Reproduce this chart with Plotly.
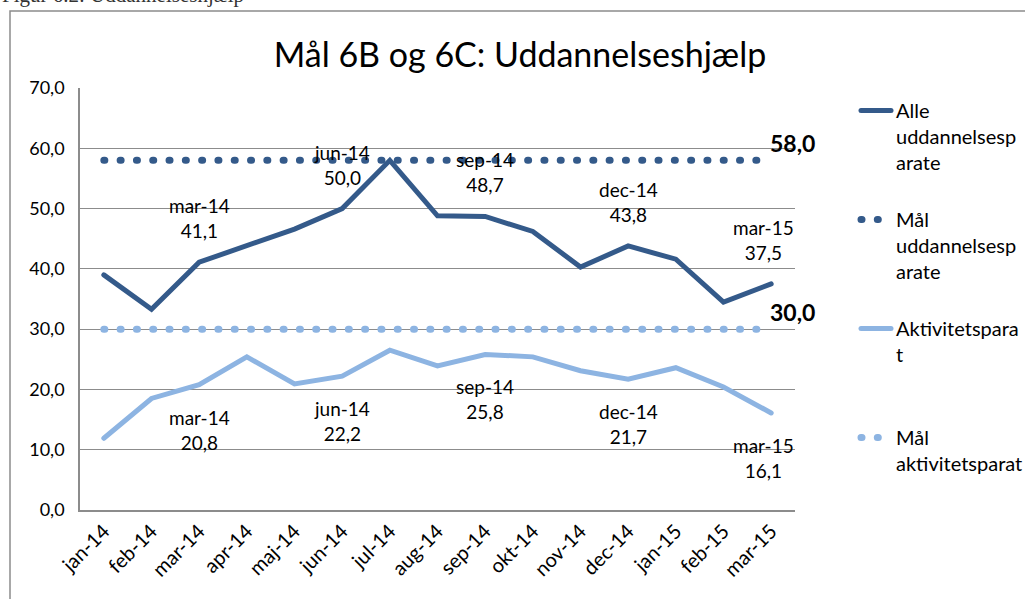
import plotly.graph_objects as go

months = ["jan-14", "feb-14", "mar-14", "apr-14", "maj-14", "jun-14", "jul-14",
          "aug-14", "sep-14", "okt-14", "nov-14", "dec-14", "jan-15", "feb-15", "mar-15"]
alle = [39.0, 33.3, 41.1, 43.9, 46.6, 50.0, 58.0, 48.8, 48.7, 46.2, 40.3, 43.8, 41.6, 34.5, 37.5]
aktiv = [11.9, 18.5, 20.8, 25.4, 20.9, 22.2, 26.5, 23.9, 25.8, 25.4, 23.1, 21.7, 23.6, 20.4, 16.1]
maal_alle = [58.0] * len(months)
maal_aktiv = [30.0] * len(months)
label_months = ["mar-14", "jun-14", "sep-14", "dec-14", "mar-15"]
ytick_vals = [0, 10, 20, 30, 40, 50, 60, 70]

names = ["Alle<br>uddannelsesp<br>arate", "Mål<br>uddannelsesp<br>arate",
         "Aktivitetspara<br>t<br> ", "Mål<br>aktivitetsparat"]

DARK = "#345A8A"
LIGHT = "#8DB4E2"
GRID = "#8C8C8C"
FONT = "Lato"

W, H = 1025, 599
L, R, T, B = 80, 230, 88, 89
pw, ph = W - L - R, H - T - B

def px_x(p):
    return (p - L) / pw

def px_y(p):
    return (H - B - p) / ph

def fmt(v):
    return f"{v:.1f}".replace(".", ",")

fig = go.Figure()
fig.add_trace(go.Scatter(x=months, y=alle, mode="lines", name=names[0], legendgroup="a",
                         line=dict(color=DARK, width=5), hoverinfo="skip"))
fig.add_trace(go.Scatter(x=months, y=maal_alle, mode="lines", name=names[1], legendgroup="b",
                         line=dict(color=DARK, width=7, dash="1px,15.3px"), hoverinfo="skip"))
fig.add_trace(go.Scatter(x=months, y=aktiv, mode="lines", name=names[2], legendgroup="c",
                         line=dict(color=LIGHT, width=5), hoverinfo="skip"))
fig.add_trace(go.Scatter(x=months, y=maal_aktiv, mode="lines", name=names[3], legendgroup="d",
                         line=dict(color=LIGHT, width=7, dash="1px,15.3px"), hoverinfo="skip"))

annots = []
for m in label_months:
    i = months.index(m)
    xs = -8 if m == "mar-15" else 0
    annots.append(dict(x=m, y=alle[i], text=f"{m}<br>{fmt(alle[i])}", showarrow=False,
                       yshift=44, xshift=xs, font=dict(family=FONT, size=19, color="black")))
    annots.append(dict(x=m, y=aktiv[i], text=f"{m}<br>{fmt(aktiv[i])}", showarrow=False,
                       yshift=-45, xshift=xs, font=dict(family=FONT, size=19, color="black")))
for vals in (maal_alle, maal_aktiv):
    annots.append(dict(x=months[-1], y=vals[-1], text=f"<b>{fmt(vals[-1])}</b>", showarrow=False,
                       xshift=21, yshift=17, font=dict(family=FONT, size=23, color="black")))

annots.append(dict(xref="paper", yref="paper", x=px_x(0), y=px_y(9), xanchor="left",
                   yanchor="bottom", text="Figur 6.2: Uddannelseshjælp", showarrow=False,
                   font=dict(family="Liberation Serif", size=21, color="#333333")))

fig.update_layout(
    width=W, height=H,
    margin=dict(l=L, r=R, t=T, b=B, autoexpand=False),
    paper_bgcolor="white", plot_bgcolor="white",
    separators=", ",
    font=dict(family=FONT, size=18, color="black"),
    title=dict(text="Mål 6B og 6C: Uddannelseshjælp", xref="container", yref="container",
               x=520 / W, y=1 - 55 / H, xanchor="center", yanchor="middle",
               font=dict(family=FONT, size=34, color="black")),
    xaxis=dict(type="category", range=[-0.5, len(months) - 0.5], tickangle=-45,
               showgrid=False, showline=True, linecolor=GRID, linewidth=1.5,
               ticks="", tickfont=dict(family=FONT, size=20), fixedrange=True,
               automargin=False),
    yaxis=dict(range=[0, 70], tickvals=ytick_vals, tickformat=".1f", showgrid=True,
               gridcolor=GRID, gridwidth=1, showline=True, linecolor=GRID, linewidth=1.5,
               zeroline=False, ticks="", ticklabelstandoff=10,
               tickfont=dict(family=FONT, size=18), fixedrange=True, automargin=False),
    legend=dict(x=px_x(856), y=px_y(91), xanchor="left", yanchor="top",
                font=dict(family=FONT, size=20, color="black"), valign="top",
                tracegroupgap=28, bgcolor="rgba(0,0,0,0)"),
    annotations=annots,
    shapes=[dict(type="rect", xref="paper", yref="paper", x0=px_x(10), x1=px_x(1200),
                 y0=px_y(700), y1=px_y(11), line=dict(color="#8C8C8C", width=1.5),
                 layer="below")],
    showlegend=True,
)

post = """
document.body.style.margin = '0';
document.querySelectorAll('.js-line, .legendlines path').forEach(function(p){
  p.style.strokeLinecap = 'round';
});
"""
fig.write_html("out.html", config={"displayModeBar": False}, post_script=post)
